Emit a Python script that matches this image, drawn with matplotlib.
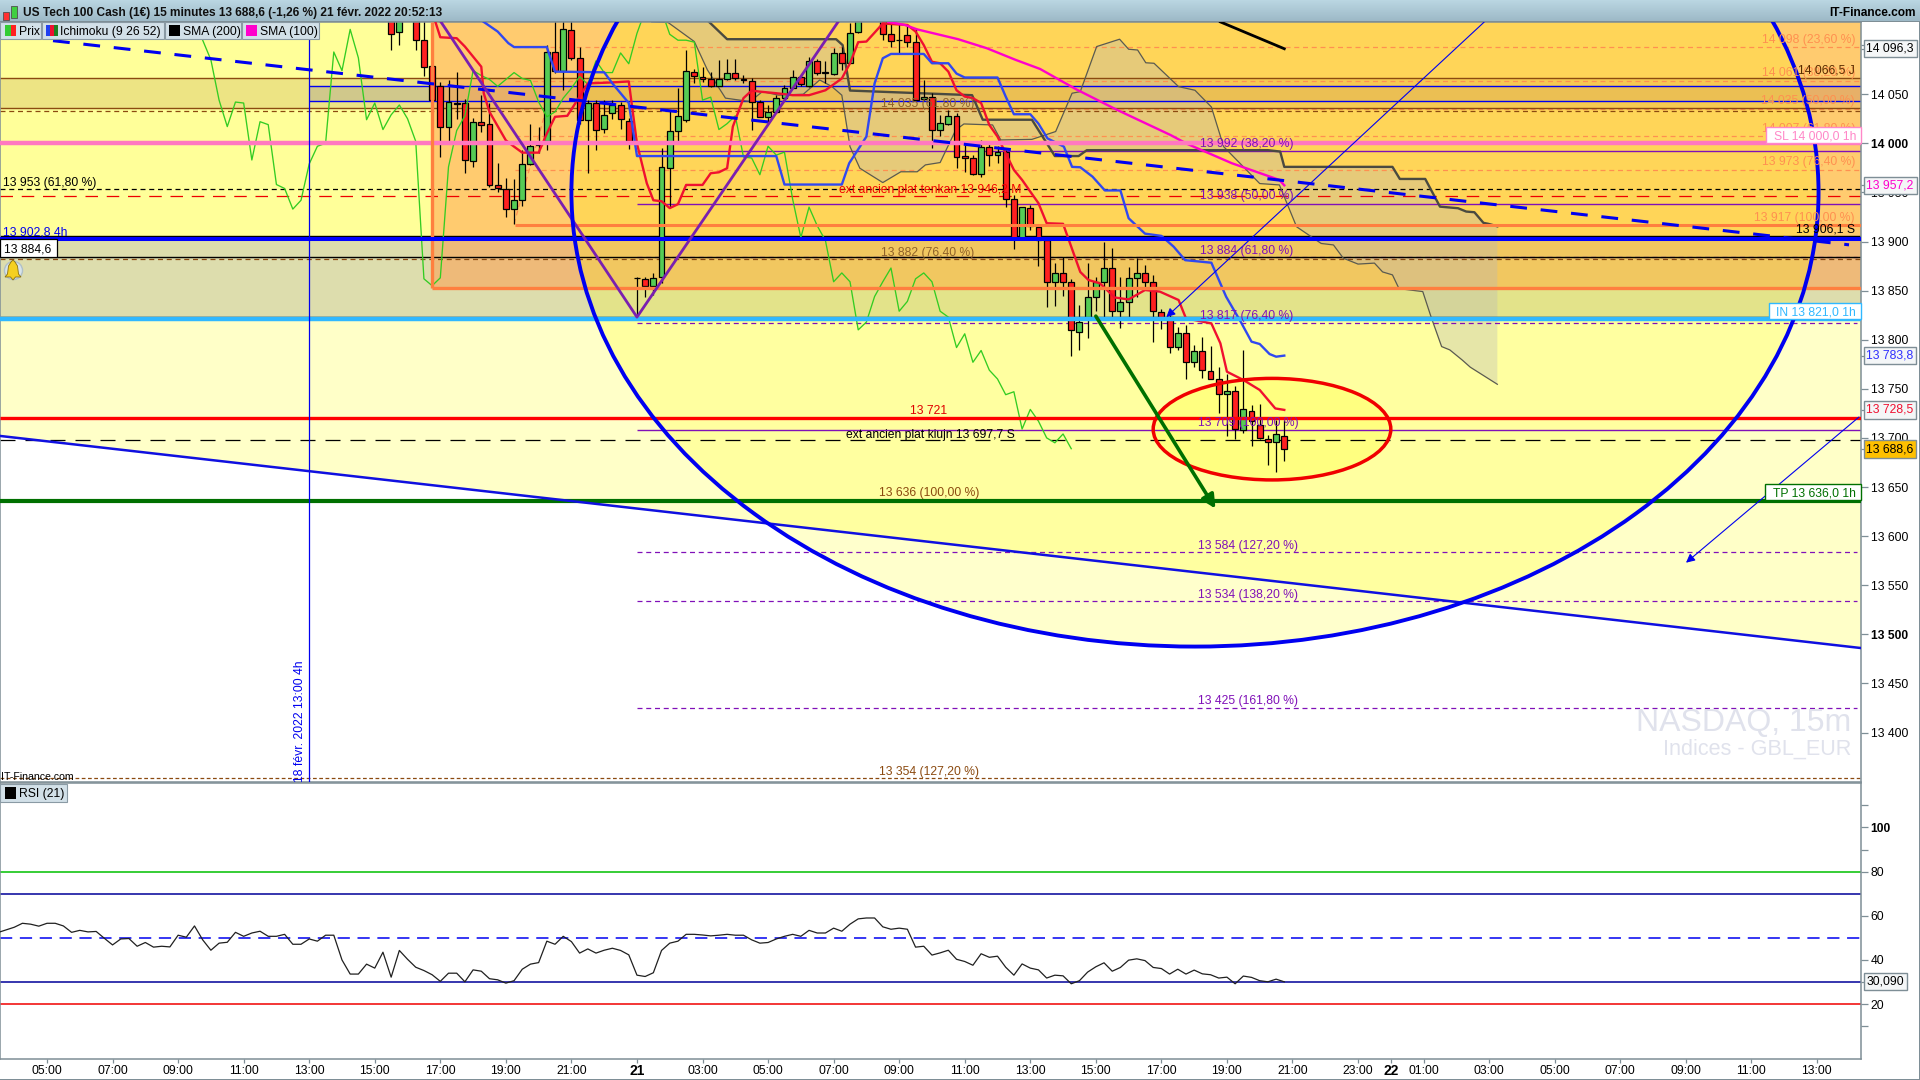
import numpy as np
import matplotlib
matplotlib.use("Agg")
import matplotlib.pyplot as plt
from matplotlib.patches import Ellipse, Rectangle, Polygon

plt.rcParams['font.family'] = ['Liberation Sans', 'DejaVu Sans']
W, H = 1920, 1080

# Bougies 15 min, barres 42 à 151 (21 = barre 72)
first_bar = 42
opens = [14135,14113,14140,14135,14105,14079,14058,14017,14041,14041,
         13982,14022,14020,13958,13953,13933,13942,13979,13998,14002,
         14093,14074,14115,14087,14024,14041,14015,14031,14039,14023,
         13863,13861.5,13855,13863.6,13974.6,14013,14024,14073,14068,14065,
         14058,14065,14072,14065,14063.5,14042.5,14026.5,14032,14046,14056,
         14068,14058.5,14084,14072.5,14071,14092,14081.5,14113,14135,14140,
         14135,14111,14105.5,14110,14103,14045,14047.6,14013.6,14020,14028,
         13987,13985,13968.5,13996.6,13988,13991,13943,13904,13934,13914.5,
         13901.5,13858.4,13867.6,13859,13808,13822.8,13843,13859,13872.6,13829.5,
         13838.7,13862.5,13867.6,13859,13828.5,13823.4,13792.2,13806.5,13777.6,13788.8,
         13768.4,13759.6,13744.3,13747.4,13708,13727.7,13713,13698.5,13696,13702.2]
highs = [14150,14150,14160,14150,14125,14085,14062,14064,14073,14045,
         14026,14049,14041,13980,13965,13964,13993,14020,14017,14100,
         14125,14130,14130,14098,14044,14044,14044,14044,14042,14026,
         13864,13864,13868,13995,14034,14056,14095,14076,14078,14073,
         14085,14085.6,14085.6,14070,14067,14044,14039,14049,14059.5,14075,
         14070,14087.6,14085.6,14084,14097,14098.5,14122,14150,14150,14150,
         14150,14121.6,14122,14119,14117,14064.5,14051,14029,14034,14031,
         14002.4,13988,14003.4,14000,13997,13993,13947,13935.6,13937,13918,
         13903,13877.7,13884.5,13861.4,13835.3,13877.7,13863.5,13899.8,13893,13864,
         13874.3,13882.8,13876,13865.9,13830.9,13825,13813.2,13815,13794.6,13803,
         13793.6,13772.5,13765,13752.8,13789.5,13733.5,13734.5,13703,13718.2,13718.2]
lows = [14095,14100,14130,14095,14069,14044,13986,14002,14025,13970,
        13976,14012,13956,13950,13925,13918,13936,13978,13990,13993,
        14072,14054,14085,14020,13970,13993,14010,14025,14015,13994,
        13823,13843,13846,13857.5,13935.5,14002,14022,14061,14062,14057,
        14058,14064.5,14064.5,14061,14014,14026.5,14020,14030.5,14044,14056,
        14058,14057,14069.6,14061,14069.6,14075,14081.5,14112,14130,14130,
        14105,14098.5,14092,14098.5,14044,14044,13995.6,14007,14019,13974.6,
        13971,13968,13966,13977,13979.7,13935.5,13892,13904,13912,13875,
        13833.6,13834.3,13844.5,13783.7,13789.5,13802,13829,13822,13822.8,13812,
        13822.8,13843.8,13850.6,13797.3,13810.5,13786,13789.5,13759.6,13771.8,13761.3,
        13759.6,13725.7,13702,13698.9,13704.6,13692.1,13698.5,13672.4,13665.6,13676.5]
closes = [14111,14135,14150,14105,14078,14044,14017,14042,14040.5,13983,
          14022,14019,13958,13954,13933,13942,13979,13997,14000,14093,
          14074,14116,14087,14024,14041,14014,14029,14039,14025,14002,
          13862.5,13855,13862.6,13975.6,14013,14028,14074,14069,14065,14058,
          14065,14072,14066,14064,14042.5,14027,14032,14046,14056,14068,
          14060.5,14084,14072,14072,14092,14081.5,14112,14135,14145,14135,
          14111,14104.6,14105,14103,14044,14047,14013.6,14020.4,14028,13986.5,
          13985,13968.5,13996.6,13988,13991,13943,13904,13935,13916,13901.5,
          13859,13867.6,13859,13809.9,13818.3,13843.8,13859,13872.6,13829.5,13838.7,
          13862.5,13867.6,13859,13829,13823.4,13792.2,13806.5,13777,13788.8,13769,
          13759.6,13744.3,13747.4,13708.7,13729,13717.2,13699.5,13695.5,13703.6,13688.6]

# Chikou : barres 16 à 125
chikou_start = 16
chikou = [14111,14135,14150,14105,14085,14044,14017,14042,14041,13983,
          14022,14019,13958,13954,13933,13942,13979,13997,14000,14093,
          14074,14116,14087,14024,14041,14014,14029,14039,14025,14002,
          13862,13855,13863,13976,14013,14028,14074,14069,14065,14058,
          14065,14072,14066,14064,14042,14027,14032,14046,14056,14068,
          14060,14084,14072,14072,14092,14081,14112,14135,14145,14135,
          14111,14105,14105,14103,14044,14047,14014,14020,14028,13986,
          13985,13968,13997,13988,13991,13943,13904,13935,13916,13901,
          13859,13868,13859,13810,13818,13844,13859,13873,13829,13839,
          13862,13868,13859,13829,13823,13792,13806,13777,13789,13769,
          13760,13744,13747,13709,13729,13717,13700,13695,13704,13689]

tenkan_x = [47.4,48,50,51,53,53.3,54,56,57,58,60,61,62,63.5,65,66,69,71,
            72,73.2,74,75,76,77,78,80,81,82,83,83.7,85,86,87,89,91,93,95,97,98,99,100,101,102,
            105,106,107,108,109,110,111,112,113,114,115,116,117,118,119,120,121,122,124,
            126.1,127.1,128.5,130.3,132,134,135.8,138.1,139,142.1,143.2,144,146,148,149.9,151]
tenkan_y = [14123.6,14108,14107,14098.5,14078,14051,14032,14003,13996.6,13990.5,13990.5,14010,14027,14028,14047.6,14061,14062,14063,
            13999.6,13959.3,13942,13941,13934,13938,13957.6,13957.6,13969.5,13970.5,13974.6,14017,14046,14053.7,14052.6,14051,14049,14049,14054,14066,14081.5,14103,14103.6,14112.7,14122,
            14120.5,14113.8,14100,14083,14081.5,14073,14054,14047.6,14046,14041,14018.7,14006.8,13989.9,13972.9,13962.7,13950.8,13939,13918.6,13918,
            13869,13860.8,13857.4,13843,13841,13850.6,13849,13840.4,13821.7,13816.6,13796.3,13767.4,13759,13748.8,13730,13728.5]

kijun_x = [53.3,55,56.3,57,61,62,68,69,71,72,89,90,97,97.9,100,101,102,103,107,108,110,111,112,116,117,118,120,121,
           122.1,124.1,125.1,126.1,127.6,129.1,131,132,134,136,137.5,138.9,142.1,143.9,145.7,147,148,149.2,150,151]
kijun_y = [14123.6,14113.8,14102,14098,14098,14073,14072.3,14061,14041,13987,13987,13958,13958,13979.7,14006.8,14061,14086.6,14091,14091,14081.5,14081.5,14071,14067,14067,14047.6,14029.6,14029.6,14020,
           14005,13996.6,13976,13975.6,13966,13952,13952,13923.7,13908,13905.7,13894.7,13881,13878.4,13843.8,13818,13798,13795.6,13785.4,13782.7,13783.8]

senkou_a_x = [73.8,75.8,79,80.6,82.8,85.8,87.3,89.3,92.3,94.3,95.8,97,98,99.2,102,104.2,106.2,107.2,109,110.9,111.9,115.4,116.4,120.2,123.1,125.1,126.1,128.1,130.9,132,133.1,134.1,135.1,138.1,140.1,142.1,143.6,148,150.4,
              152.5,155.5,157,158.2,160,162,163,164.2,165,167.9,168.9,170.2,171.2,172.7,173.7,177]
senkou_a_y = [14123.6,14123,14103.6,14074.7,14046,14042.5,14052.6,14049,14050,14064.5,14057.7,14049,13996.6,13974.6,13960,13971,13971,13978,13980.4,14013.6,14019.7,14018.7,14003.4,14004,14012,14051,14052.6,14098.5,14106,14095.8,14095,14082,14081.5,14057.7,14054,14037,13996.6,13959,13957.6,
              13915,13898,13896.5,13883,13877,13878,13869,13866,13852,13849,13823.5,13793,13789.6,13779.4,13772,13754.6]
senkou_b_x = [80.8,83,96.3,97.1,98,112.9,114.2,120.2,123,125.9,126.9,149,150.5,151,164.2,165.1,168.2,170,172.2,173.2,174.2,175.3,175.9,177]
senkou_b_y = [14123.6,14106,14106,14100,14053.7,14049,14024,14024,13987,13987,13993,13993,13991.6,13976,13976,13963.7,13963.7,13935.5,13933.9,13930.5,13929.8,13919,13918,13915.5]

sma100_x = [102.7,104.7,106.2,111.2,114.7,118.2,121.2,125.6,130.6,137.1,139.1,144.6,150.4,151]
sma100_y = [14123.6,14120.5,14116,14106,14096.8,14085,14075.7,14055,14034,14008.5,13999.6,13979.7,13962.7,13957.2]
sma200_x = [143.2,151]
sma200_y = [14123.6,14096.3]

# RSI(21) : barres -6 à 151
rsi_start = -6
rsi = [52.4,53.6,54.8,56.6,56.2,55.3,56.6,56.6,55.4,52.5,
       53.4,52.7,52.9,49.8,46.8,49.5,49.7,46.2,47.9,45.8,
       46.2,45.9,51.2,50.3,55.4,49.1,44.4,47.6,48.0,52.5,
       50.7,52.2,53.0,50.7,50.7,51.6,47.1,47.1,49.5,48.5,
       51.2,51.2,40.0,33.6,33.6,38.1,36.3,43.5,32.2,44.3,
       40.3,36.7,35.2,33.3,30.3,34.0,34.0,30.1,35.5,34.9,
       31.5,31.0,29.5,30.6,35.8,38.1,38.8,48.5,47.1,50.7,
       48.3,43.1,45.0,43.1,44.4,45.3,44.3,42.3,33.1,32.5,
       34.2,44.3,47.6,48.5,51.6,51.6,51.3,50.9,51.2,51.6,
       51.2,51.2,49.1,47.6,47.9,49.5,50.7,51.6,50.7,53.4,
       52.2,52.2,54.4,53.0,56.2,58.6,59.0,59.0,55.0,53.9,
       54.4,53.9,45.8,46.2,42.2,43.2,44.4,40.3,
       39.3,37.6,42.8,41.2,41.7,36.7,33.1,38.2,36.3,35.5,
       31.8,33.1,32.8,29.2,30.6,34.5,36.9,38.7,34.9,36.6,
       39.9,40.5,39.7,36.6,36.1,33.6,35.8,33.6,35.4,33.7,
       33.3,31.8,32.2,29.2,32.7,32.1,30.6,30.1,31.3,30.09]

price_ticks = [14100,14050,14000,13950,13900,13850,13800,13750,13700,13650,13600,13550,13500,13450,13400]
price_labels = ['14 100','14 050','14 000','13 950','13 900','13 850','13 800','13 750','13 700','13 650','13 600','13 550','13 500','13 450','13 400']
time_ticks = [0,8,16,24,32,40,48,56,64,72,80,88,96,104,112,120,128,136,144,152,160,164,168,176,184,192,200,208,216]
time_labels = ['05:00','07:00','09:00','11:00','13:00','15:00','17:00','19:00','21:00','21','03:00','05:00','07:00','09:00','11:00','13:00','15:00','17:00','19:00','21:00','23:00','22','01:00','03:00','05:00','07:00','09:00','11:00','13:00']
rsi_ticks = [110,100,90,80,60,40,20,10]
rsi_labels = ['','100','','80','60','40','20','']

YEL = '#FFFF99'
BLUE = '#0000F0'
PURPLE = '#8010B8'
ORANGE = '#FF7F3F'
FIBO = '#FF9050'
BROWN = '#8B4A10'

# échelles : 1 barre = 8,194 px, 1 point = 0,982 px
def xp(px):
    return (px - 47) / 8.194

def yp(py):
    return 14000 - (py - 143.3) / 0.982

fig = plt.figure(figsize=(W / 100, H / 100), dpi=100, facecolor='white')
ax = fig.add_axes([0, 1 - 782 / H, 1861 / W, 760 / H])
ax2 = fig.add_axes([0, 1 - 1059.3 / H, 1861 / W, 276 / H])
x0, x1 = xp(0), xp(1861)
y0, y1 = yp(782), yp(22)
ax.set_xlim(x0, x1)
ax.set_ylim(y0, y1)
ax2.set_xlim(x0, x1)
ax2.set_ylim(-5, 120)

# fonds
ax.axhspan(13821, y1, color=YEL, lw=0, zorder=0)
ax.add_patch(Polygon([(x0, 13821), (x1, 13821), (x1, 13486), (x0, 13702)], fc='#FFFFC8', ec='none', zorder=0))
ax.axhspan(13823, 13906, color='#5555FF', alpha=0.2, lw=0, zorder=0.2)
ax.axhspan(14035.7, 14066.5, color=BROWN, alpha=0.15, lw=0, zorder=0.2)
ax.add_patch(Rectangle((xp(309), 14043), x1 - xp(309), 15, fc='#0000C0', alpha=0.12, ec='none', zorder=0.2))
ax.add_patch(Rectangle((xp(432), 13853), x1 - xp(432), y1 - 13853, fc='#FF9947', alpha=0.5, ec='none', zorder=0.3))
ax.add_patch(Ellipse((140.1, 13950), 152.2, 925, fc='#FFFF00', alpha=0.2, ec='none', zorder=0.4))
ax.add_patch(Ellipse((149.5, 13708.9), 29, 103.4, fc='#FFFF00', alpha=0.2, ec='none', zorder=0.5))

# nuage Ichimoku
ax.fill(senkou_a_x + senkou_b_x[::-1], senkou_a_y + senkou_b_y[::-1], fc='#B8B8B8', alpha=0.35, ec='none', zorder=0.6)
ax.plot(senkou_a_x, senkou_a_y, color='#5A5A50', lw=0.9, zorder=1)
ax.plot(senkou_b_x, senkou_b_y, color='#4A4A40', lw=1.7, zorder=1)

# niveaux fins sous les bougies
for lvl in [14098, 14063, 14035, 14007, 13973]:
    ax.hlines(lvl, xp(515), x1, color=FIBO, lw=0.9, ls=(0, (4, 3)), zorder=0.8)
ax.plot([57, 61], [13918, 14037], color=FIBO, lw=0.9, ls=(0, (4, 3)), zorder=0.8)
ax.hlines([14058, 14043], xp(309), x1, color=BLUE, lw=1.0, zorder=0.9)
ax.hlines([14066.5, 14035.7], x0, x1, color=BROWN, lw=1.0, zorder=0.9)
ax.hlines(14033, x0, x1, color=BROWN, lw=0.9, ls=(0, (4, 3)), zorder=0.9)
ax.hlines(13953, x0, x1, color='black', lw=0.9, ls=(0, (4, 3)), zorder=0.9)
ax.hlines(13946.2, x0, x1, color='#EE0000', lw=0.9, ls=(0, (10, 7)), zorder=0.9)
ax.hlines(13697.7, x0, x1, color='black', lw=0.9, ls=(0, (12, 8)), zorder=0.9)
ax.hlines(13882, x0, x1, color=BROWN, lw=0.9, ls=(0, (4, 3)), zorder=0.9)
ax.hlines([13992, 13938, 13708], 72, x1, color=PURPLE, lw=1.0, zorder=0.9)
ax.hlines([13884, 13817, 13584, 13534, 13425], 72, xp(1857), color=PURPLE, lw=0.9, ls=(0, (4, 3)), zorder=0.9)
ax.hlines(13354, x0, x1, color=BROWN, lw=0.9, ls=(0, (3, 2)), zorder=0.9)
ax.hlines([13906.1, 13884.6, 13823], x0, x1, color='black', lw=1.0, zorder=0.9)

# bougies
bars = np.arange(first_bar, first_bar + len(closes))
o, c = np.array(opens), np.array(closes)
cols = ['#55CC55' if cl >= op else '#FF2020' for op, cl in zip(o, c)]
ax.vlines(bars, lows, highs, color='black', lw=0.9, zorder=2)
ax.bar(bars, np.maximum(np.abs(c - o), 0.5), bottom=np.minimum(o, c), width=0.72,
       color=cols, edgecolor='black', linewidth=0.9, zorder=2.1)

# indicateurs
ax.plot(np.arange(chikou_start, chikou_start + len(chikou)), chikou, color='#33CC22', lw=0.95, zorder=2.5)
ax.plot(tenkan_x, tenkan_y, color='#F01030', lw=1.7, zorder=2.6)
ax.plot(kijun_x, kijun_y, color='#3048F0', lw=1.7, zorder=2.6)
ax.plot(sma100_x, sma100_y, color='#FF00CC', lw=1.7, zorder=2.7)
ax.plot(sma200_x, sma200_y, color='black', lw=2, zorder=2.7)

# grands niveaux
ax.hlines(14000, x0, x1, color='#FF78C0', lw=3.2, zorder=3)
ax.hlines(13917, xp(515), x1, color=ORANGE, lw=2.2, zorder=3)
ax.hlines(13853, xp(432), x1, color=ORANGE, lw=2.4, zorder=3)
ax.vlines(xp(432), 13853, y1, color=ORANGE, lw=2.4, zorder=3)
ax.hlines(13902.8, x0, x1, color='#0000FF', lw=2.9, zorder=3)
ax.hlines(13821, x0, x1, color='#30B8FF', lw=3.2, zorder=3)
ax.hlines(13720.5, x0, x1, color='#FF0000', lw=2.4, zorder=3)
ax.hlines(13636, x0, x1, color='#007000', lw=3.0, zorder=3)

# dessins
ax.vlines(xp(309), y0, y1, color=BLUE, lw=0.9, zorder=3)
ax.plot([x0, x1], [13702, 13486], color='#1010E0', lw=1.8, zorder=3.1)
ax.plot([xp(53), xp(1849)], [14104.5, 13896.6], color=BLUE, lw=2.2, ls=(0, (5.5, 4.5)), zorder=3.1)
ax.plot([xp(441), 72, xp(838)], [y1, 13823, y1], color='#7A1FB0', lw=2.0, zorder=3.1)
ax.add_patch(Ellipse((140.1, 13950), 152.2, 925, fc='none', ec='#0000F0', lw=2.8, zorder=3.2))
ax.add_patch(Ellipse((149.5, 13708.9), 29, 103.4, fc='none', ec='#F00000', lw=2.5, zorder=3.2))
ax.annotate('', xy=(142.6, 13628), xytext=(128, 13824), zorder=3.3,
            arrowprops=dict(arrowstyle='-|>', color='#007000', lw=2.6, mutation_scale=20, shrinkA=0, shrinkB=0))
ax.annotate('', xy=(136.6, 13823), xytext=(175.4, y1), zorder=3.3,
            arrowprops=dict(arrowstyle='-|>', color=BLUE, lw=0.8, mutation_scale=13, shrinkA=0, shrinkB=0))
ax.annotate('', xy=(xp(1686), yp(562.7)), xytext=(xp(1859), yp(417)), zorder=3.3,
            arrowprops=dict(arrowstyle='-|>', color=BLUE, lw=0.8, mutation_scale=13, shrinkA=0, shrinkB=0))

# textes du graphique
FS = 8.7
def label(px, py, s, color='black', ha='center', size=FS, **kw):
    ax.text(xp(px), yp(py + 1.3), s, color=color, ha=ha, va='center', fontsize=size, zorder=4, **kw)

label(1855, 38.5, '14 098 (23,60 %)', FIBO, 'right')
label(1855, 72, '14 061 (38,20 %)', FIBO, 'right')
label(1855, 100, '14 035 (50,00 %)', FIBO, 'right')
label(1855, 128, '14 007 (61,80 %)', FIBO, 'right')
label(1855, 161, '13 973 (76,40 %)', FIBO, 'right')
label(1855, 216.5, '13 917 (100,00 %)', FIBO, 'right')
label(1855, 69.5, '14 066,5 J', '#5A2A00', 'right')
label(1855, 228, '13 906,1 S', 'black', 'right')
label(3, 181.5, '13 953 (61,80 %)', 'black', 'left')
label(3, 231, '13 902,8 4h', BLUE, 'left')
label(928, 102.5, '14 035 (61,80 %)', '#90622A')
label(928, 251.5, '13 882 (76,40 %)', '#90622A')
label(930, 189, 'ext ancien plat tenkan 13 946,2 M', '#F00000')
label(1247, 142.5, '13 992 (38,20 %)', PURPLE)
label(1247, 195, '13 938 (50,00 %)', PURPLE)
label(1247, 249.5, '13 884 (61,80 %)', PURPLE)
label(1247, 314.5, '13 817 (76,40 %)', PURPLE)
label(1248, 421.7, '13 709 (100,00 %)', PURPLE)
label(929, 410, '13 721', '#E00000')
label(930, 433.5, 'ext ancien plat kiujn 13 697,7 S')
label(929, 492, '13 636 (100,00 %)', '#8B4A10')
label(1248, 545, '13 584 (127,20 %)', PURPLE)
label(1248, 594, '13 534 (138,20 %)', PURPLE)
label(1248, 700, '13 425 (161,80 %)', PURPLE)
label(929, 770.5, '13 354 (127,20 %)', '#8B4A10')
label(1, 776, 'IT-Finance.com', 'black', 'left', size=7.6)
label(300, 720, '18 févr. 2022 13:00 4h', BLUE, 'center', rotation=90)
label(1851, 722, 'NASDAQ, 15m', '#E0E2EC', 'right', size=23)
label(1851, 748, 'Indices - GBL_EUR', '#E0E2EC', 'right', size=15.6)

# cloche
bell_px = [(5, 277), (7.5, 274), (8.5, 266), (11, 262), (13, 260), (15, 262), (17.5, 266), (18.5, 274), (21, 277), (15.5, 277), (13, 280), (10.5, 277)]
ax.plot([xp(13)], [yp(270)], marker='o', ms=13, mfc='#D8E4EA', mec='#B0C0C8', zorder=4)
ax.add_patch(Polygon([(xp(a), yp(b)) for a, b in bell_px], fc='#F5D020', ec='#8A7010', lw=0.6, zorder=4.1))

# axes prix
for a in (ax, ax2):
    a.yaxis.tick_right()
    a.set_facecolor('white')
    for s in a.spines.values():
        s.set_color('#7E8E96')
        s.set_linewidth(1.1)
ax.set_yticks(price_ticks + [14096.3, 13957.2, 13783.8, 13728.5, 13688.6])
ax.set_yticklabels(price_labels + [''] * 5, fontsize=FS)
ax.tick_params(axis='y', length=5, width=0.9, color='#7E8E96', pad=2)
ax.set_xticks([])
for t in ax.get_yticklabels():
    if t.get_text() in ('14 000', '13 500'):
        t.set_fontweight('bold')

def value_box(a, y, s, color='black', bg='#F4F6F7'):
    a.text(1866.5 / 1861, y, s, transform=a.get_yaxis_transform(), color=color, fontsize=FS, ha='left', va='center',
           clip_on=False, zorder=6, bbox=dict(boxstyle='square,pad=0.22', fc=bg, ec='#7E8E96', lw=1))

value_box(ax, 14096.3, '14 096,3')
value_box(ax, 13957.2, '13 957,2', '#FF00CC')
value_box(ax, 13783.8, '13 783,8', '#3030FF')
value_box(ax, 13728.5, '13 728,5', '#F01030')
value_box(ax, 13688.6, '13 688,6', 'black', '#FFC000')

# RSI
ax2.plot(np.arange(rsi_start, rsi_start + len(rsi)), rsi, color='#202020', lw=0.9, zorder=3)
ax2.axhline(80, color='#00C000', lw=1.1)
ax2.axhline(70, color='#000099', lw=1.1)
ax2.axhline(50, color='#0000F0', lw=1.1, ls=(0, (8, 5)))
ax2.axhline(30, color='#000099', lw=1.1)
ax2.axhline(20, color='#F00000', lw=1.1)
ax2.set_yticks(rsi_ticks + [30.09])
ax2.set_yticklabels(rsi_labels + [''], fontsize=FS)
ax2.tick_params(axis='y', length=5, width=0.9, color='#7E8E96', pad=2)
for t in ax2.get_yticklabels():
    if t.get_text() == '100':
        t.set_fontweight('bold')
value_box(ax2, 30.09, '30,090')
ax2.set_xticks(time_ticks)
ax2.set_xticklabels(time_labels, fontsize=FS, va='center')
ax2.tick_params(axis='x', length=3, width=0.9, color='#7E8E96', pad=5.2)
for t in ax2.get_xticklabels():
    if t.get_text() in ('21', '22'):
        t.set_fontweight('bold')
        t.set_fontsize(10)

# barre de titre et légendes, en pixels de la figure
def fig_rect(x, y, w, h, **kw):
    r = Rectangle((x / W, 1 - (y + h) / H), w / W, h / H, transform=fig.transFigure, **kw)
    fig.add_artist(r)

def fig_text(x, y, s, **kw):
    kw.setdefault('fontsize', FS)
    fig.text(x / W, 1 - y / H, s, va='center', zorder=12, **kw)

bar_ax = fig.add_axes([0, 1 - 22 / H, 1, 22 / H], zorder=5)
bar_ax.imshow(np.linspace(0, 1, 22).reshape(-1, 1), aspect='auto', extent=(0, 1, 0, 1),
              cmap=matplotlib.colors.LinearSegmentedColormap.from_list('t', ['#BAD6E2', '#9CB8C6']))
bar_ax.axis('off')
fig_rect(0, 21, W, 1, fc='#7E8E96', ec='none', zorder=11)
fig_rect(3, 12, 6, 8, fc='#FF3030', ec='#505050', lw=0.6, zorder=11)
fig_rect(11, 6, 6, 12, fc='#40D040', ec='#505050', lw=0.6, zorder=11)
fig_text(23, 13, 'US Tech 100 Cash (1€) 15 minutes 13 688,6 (-1,26 %) 21 févr. 2022 20:52:13', fontweight='bold', color='#101010', fontsize=8.6)
fig.text(1916 / W, 1 - 13 / H, 'IT-Finance.com', ha='right', va='center', fontsize=8.6, fontweight='bold', zorder=12)

for bx, bw in [(0, 41), (42, 122), (165, 76), (242, 77)]:
    fig_rect(bx, 22, bw, 17, fc='#D2E0E8', ec='#8A9AA4', lw=0.8, zorder=10)
fig_rect(5, 25, 5.5, 11, fc='#33CC33', ec='none', zorder=11)
fig_rect(10.5, 25, 5.5, 11, fc='#FF2020', ec='none', zorder=11)
fig_text(19, 32, 'Prix')
fig_rect(46, 25, 4, 11, fc='#2040F0', ec='none', zorder=11)
fig_rect(50, 25, 4, 11, fc='#F01030', ec='none', zorder=11)
fig_rect(54, 25, 4, 11, fc='#208020', ec='none', zorder=11)
fig_text(60, 32, 'Ichimoku (9 26 52)')
fig_rect(169, 25, 11, 11, fc='black', ec='none', zorder=11)
fig_text(183, 32, 'SMA (200)')
fig_rect(246, 25, 11, 11, fc='#FF00CC', ec='none', zorder=11)
fig_text(260, 32, 'SMA (100)')
fig_rect(0, 784, 67, 18, fc='#D2E0E8', ec='#8A9AA4', lw=0.8, zorder=10)
fig_rect(5, 787, 11, 12, fc='black', ec='none', zorder=11)
fig_text(19, 794, 'RSI (21)')
fig_rect(0, 239, 57, 18, fc='white', ec='black', lw=0.9, zorder=10)
fig_text(4, 249, '13 884,6')

# étiquettes SL / IN / TP
for bx, by, bw, bh, s, col in [(1766, 127, 95, 16, 'SL 14 000,0 1h', '#FF88C8'),
                               (1769, 303, 92, 15.5, 'IN 13 821,0 1h', '#30B8FF'),
                               (1765, 484, 96, 16, 'TP 13 636,0 1h', '#007000')]:
    fig_rect(bx, by, bw, bh, fc='white', ec=col, lw=1, zorder=10)
    fig.text(1856 / W, 1 - (by + bh / 2 + 1.3) / H, s, color=col, fontsize=FS, ha='right', va='center', zorder=12)

# filets de bord
fig_rect(0, 1079, W, 1, fc='#7E8E96', ec='none', zorder=11)
fig_rect(1919, 22, 1, H - 22, fc='#7E8E96', ec='none', zorder=11)

fig.savefig('out.png', dpi=100)
